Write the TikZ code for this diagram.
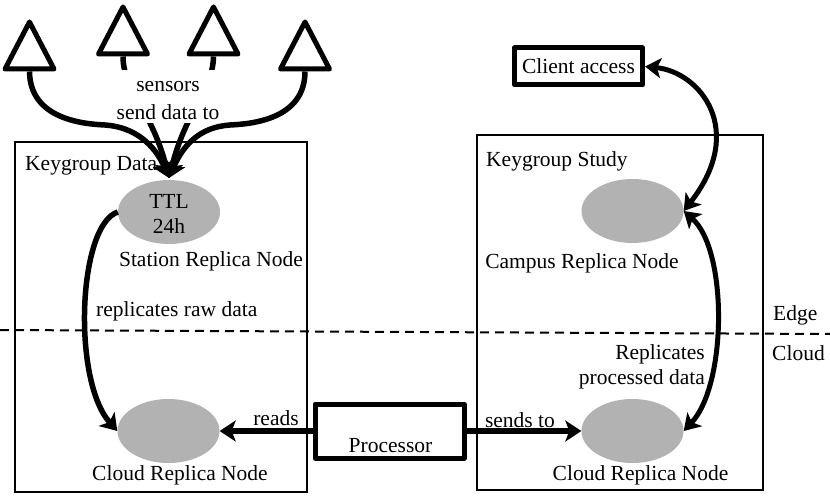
\documentclass[tikz,border=0pt]{standalone}
\usepackage{fontspec}
\setmainfont{Liberation Serif}
\usetikzlibrary{arrows.meta,shapes.geometric}
\definecolor{replicagray}{RGB}{178,178,178}
\tikzset{
  lbl/.style={inner sep=0pt,font=\fontsize{21.5}{25}\selectfont},
  group/.style={draw,line width=2pt},
  replica/.style={ellipse,fill=replicagray,minimum width=102pt,minimum height=64pt,inner sep=0pt},
  thickbox/.style={draw,line width=5pt,line join=round,fill=white,inner sep=0pt},
  sensor/.style={draw,isosceles triangle,isosceles triangle stretches,shape border rotate=90,
    minimum width=49pt,minimum height=47pt,inner sep=0pt,line width=5pt,line join=round,fill=white},
  flow/.style={line width=5.5pt,-{Stealth[length=16pt,width=21pt,inset=4pt]}},
  flowboth/.style={line width=5pt,{Stealth[length=16pt,width=20pt,inset=4pt]}-{Stealth[length=16pt,width=20pt,inset=4pt]}},
}
\begin{document}
\begin{tikzpicture}[x=1pt,y=-1pt]
\useasboundingbox (0,0) rectangle (830,497);
% group boxes
\node[group,minimum width=292pt,minimum height=350pt,anchor=north west,inner sep=0pt] (kgdata) at (14,141) {};
\node[group,minimum width=286pt,minimum height=355pt,anchor=north west,inner sep=0pt] (kgstudy) at (475.5,134) {};
% boundary
\coordinate (edgeL) at (0,330);
\coordinate (edgeR) at (830,334);
\draw[line width=2pt,dash pattern=on 9pt off 6pt] (edgeL) -- (edgeR);
% replica nodes
\node[replica,align=center,font=\fontsize{21.5}{26}\selectfont,text depth=0pt] (station) at (169,212) {};
\node[lbl] at (169,201) {TTL};
\node[lbl] at (169,226) {24h};
\node[replica] (campus) at (632.5,211) {};
\node[replica] (cloudL) at (168.5,431) {};
\node[replica] (cloudR) at (632.5,431) {};
% boxes
\node[thickbox,minimum width=149pt,minimum height=54pt] (proc) at (389.5,431) {};
\node[lbl] at (390.5,446) {Processor};
\node[thickbox,minimum width=128pt,minimum height=37pt,lbl] (client) at (578.5,66.5) {Client access};
% sensors
\node[sensor,anchor=south] (s1) at (29.5,71.5) {};
\node[sensor,anchor=south] (s2) at (123,56.5) {};
\node[sensor,anchor=south] (s3) at (213.5,56.5) {};
\node[sensor,anchor=south] (s4) at (305,71.5) {};
% sensor arrows
\coordinate (target) at (169,178);
\draw[flow] (s1.south) .. controls (30,120) and (85,124) .. (105,125) .. controls (135,127) and (155,145) .. (target);
\draw[flow] (s4.south) .. controls (305,120) and (250,124) .. (230,125) .. controls (200,127) and (183,145) .. (target);
\draw[flow] (s2.south) .. controls (123,90) and (152,110) .. (target);
\draw[flow] (s3.south) .. controls (213,90) and (186,110) .. (target);
% text over the arrows
\node[fill=white,inner sep=0pt,minimum width=112pt,minimum height=53pt] (sensorbg) at (168,96.5) {};
\node[lbl] at (168,87) {sensors};
\node[lbl] at (168,112) {send data to};
% replication arrows
\draw[flow] (station.west) .. controls (78,225) and (72,380) .. (cloudL.west);
\draw[flowboth] (campus.east) .. controls (728,250) and (727,385) .. (cloudR.east);
\draw[flowboth] (client.east) .. controls (700,72) and (747,130) .. (campus.east);
\draw[flow] (proc.west) -- (cloudL.east);
\draw[flow] (proc.east) -- (cloudR.west);
% labels
\node[lbl,anchor=west] at (25,166) {Keygroup Data};
\node[lbl,anchor=west] at (486,161) {Keygroup Study};
\node[lbl] at (211,261) {Station Replica Node};
\node[lbl] at (582,263) {Campus Replica Node};
\node[lbl,anchor=west] at (96,311) {replicates raw data};
\node[lbl,anchor=west] at (773,315) {Edge};
\node[lbl,anchor=west] at (772,353) {Cloud};
\node[lbl,anchor=east] at (705,354) {Replicates};
\node[lbl,anchor=east] at (705,379) {processed data};
\node[lbl] at (276,418) {reads};
\node[lbl] at (520,420) {sends to};
\node[lbl] at (180,475) {Cloud Replica Node};
\node[lbl] at (640.5,475) {Cloud Replica Node};
\end{tikzpicture}
\end{document}
